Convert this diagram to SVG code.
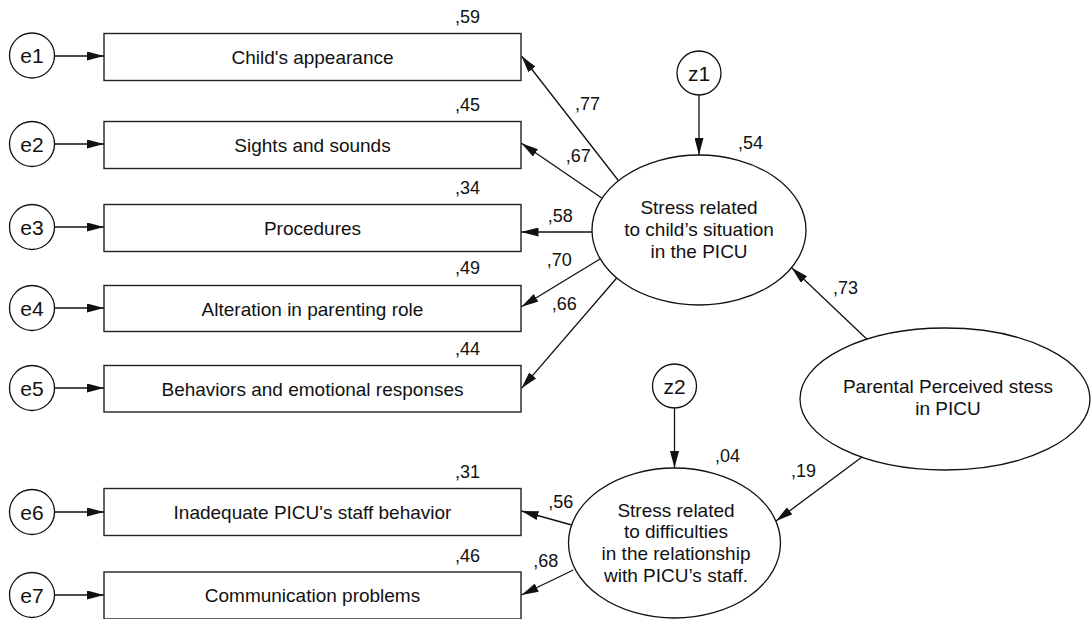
<svg xmlns="http://www.w3.org/2000/svg" width="1091" height="619" viewBox="0 0 1091 619">
<defs>
<marker id="ah" viewBox="0 0 17 9" refX="17" refY="4.5" markerWidth="17" markerHeight="9" markerUnits="userSpaceOnUse" orient="auto"><path d="M0,0 L17,4.5 L0,9 z" fill="#111"/></marker>
<style>
.box{fill:#fff;stroke:#222;stroke-width:1.4}
.shape{fill:#fff;stroke:#111;stroke-width:1.3}
.lbl{font-family:"Liberation Sans",Arial,sans-serif;font-size:19px;fill:#111;text-anchor:middle}
.err{font-family:"Liberation Sans",Arial,sans-serif;font-size:21px;fill:#111;text-anchor:middle}
.num{font-family:"Liberation Sans",Arial,sans-serif;font-size:18px;fill:#111}
.conn line{stroke:#111;stroke-width:1.3;marker-end:url(#ah)}
</style>
</defs>
<rect width="1091" height="619" fill="#fff"/>

<g id="connectors" class="conn">
<line x1="54.5" y1="56" x2="104" y2="56"/>
<line x1="54.5" y1="144" x2="104" y2="144"/>
<line x1="54.5" y1="227" x2="104" y2="227"/>
<line x1="54.5" y1="308" x2="104" y2="308"/>
<line x1="54.5" y1="388" x2="104" y2="388"/>
<line x1="54.5" y1="512" x2="104" y2="512"/>
<line x1="54.5" y1="595" x2="104" y2="595"/>
<line x1="618.3" y1="180.5" x2="521.5" y2="56"/>
<line x1="601.7" y1="198" x2="521.5" y2="143.3"/>
<line x1="592" y1="232" x2="521.5" y2="232"/>
<line x1="600" y1="259" x2="521.5" y2="306.7"/>
<line x1="616.7" y1="278" x2="521.5" y2="388.3"/>
<line x1="571.7" y1="525" x2="521.5" y2="511"/>
<line x1="573.3" y1="570" x2="521.5" y2="595"/>
<line x1="699" y1="95" x2="699" y2="155"/>
<line x1="674.5" y1="408" x2="674.5" y2="468"/>
<line x1="866.7" y1="339" x2="791.7" y2="267.8"/>
<line x1="862" y1="457" x2="776" y2="521"/>
</g>

<g id="e1"><circle class="shape" cx="32" cy="55.5" r="22.5"/><text class="err" x="32" y="63">e1</text></g>
<g id="e2"><circle class="shape" cx="32" cy="144" r="22.5"/><text class="err" x="32" y="151.5">e2</text></g>
<g id="e3"><circle class="shape" cx="32" cy="227" r="22.5"/><text class="err" x="32" y="234.5">e3</text></g>
<g id="e4"><circle class="shape" cx="32" cy="308" r="22.5"/><text class="err" x="32" y="315.5">e4</text></g>
<g id="e5"><circle class="shape" cx="32" cy="388" r="22.5"/><text class="err" x="32" y="395.5">e5</text></g>
<g id="e6"><circle class="shape" cx="32" cy="512" r="22.5"/><text class="err" x="32" y="519.5">e6</text></g>
<g id="e7"><circle class="shape" cx="32" cy="595" r="22.5"/><text class="err" x="32" y="602.5">e7</text></g>

<g id="box1"><rect class="box" x="104" y="33.5" width="417" height="47"/><text class="lbl" x="312.5" y="64">Child's appearance</text><text class="num" x="455" y="23.3">,59</text></g>
<g id="box2"><rect class="box" x="104" y="121.5" width="417" height="47"/><text class="lbl" x="312.5" y="152">Sights and sounds</text><text class="num" x="455" y="111">,45</text></g>
<g id="box3"><rect class="box" x="104" y="204.5" width="417" height="47"/><text class="lbl" x="312.5" y="235">Procedures</text><text class="num" x="455" y="194">,34</text></g>
<g id="box4"><rect class="box" x="104" y="285.5" width="417" height="46"/><text class="lbl" x="312.5" y="315.5">Alteration in parenting role</text><text class="num" x="455" y="274">,49</text></g>
<g id="box5"><rect class="box" x="104" y="365.5" width="417" height="46.5"/><text class="lbl" x="312.5" y="395.5">Behaviors and emotional responses</text><text class="num" x="455" y="355">,44</text></g>
<g id="box6"><rect class="box" x="104" y="488.5" width="417" height="47"/><text class="lbl" x="312.5" y="519">Inadequate PICU's staff behavior</text><text class="num" x="455" y="478.3">,31</text></g>
<g id="box7"><rect class="box" x="104" y="572" width="417" height="47"/><text class="lbl" x="312.5" y="602">Communication problems</text><text class="num" x="455" y="561.7">,46</text></g>

<g id="z1"><circle class="shape" cx="699" cy="73" r="22"/><text class="err" x="699" y="80.5">z1</text></g>
<g id="z2"><circle class="shape" cx="674.5" cy="386" r="22"/><text class="err" x="674.5" y="393.5">z2</text></g>

<g id="stress-child"><ellipse class="shape" cx="699" cy="230" rx="107" ry="75"/>
<text class="lbl" x="699" y="214">Stress related</text>
<text class="lbl" x="699" y="236">to child’s situation</text>
<text class="lbl" x="699" y="258.3">in the PICU</text>
<text class="num" x="738" y="149">,54</text></g>

<g id="stress-staff"><ellipse class="shape" cx="674.5" cy="543" rx="106" ry="75"/>
<text class="lbl" x="676" y="516.7">Stress related</text>
<text class="lbl" x="676" y="538.3">to difficulties</text>
<text class="lbl" x="676" y="560">in the relationship</text>
<text class="lbl" x="676" y="581.7">with PICU’s staff.</text>
<text class="num" x="715" y="461.7">,04</text></g>

<g id="parental"><ellipse class="shape" cx="945" cy="399" rx="145" ry="71"/>
<text class="lbl" x="948" y="392.7">Parental Perceived stess</text>
<text class="lbl" x="948" y="415">in PICU</text></g>

<g id="path-labels">
<text class="num" x="575" y="110">,77</text>
<text class="num" x="565.7" y="161.7">,67</text>
<text class="num" x="547.7" y="221.7">,58</text>
<text class="num" x="546.7" y="265.7">,70</text>
<text class="num" x="551.7" y="310">,66</text>
<text class="num" x="833" y="294.3">,73</text>
<text class="num" x="791" y="477">,19</text>
<text class="num" x="548.3" y="508.3">,56</text>
<text class="num" x="533.3" y="566.7">,68</text>
</g>
</svg>
